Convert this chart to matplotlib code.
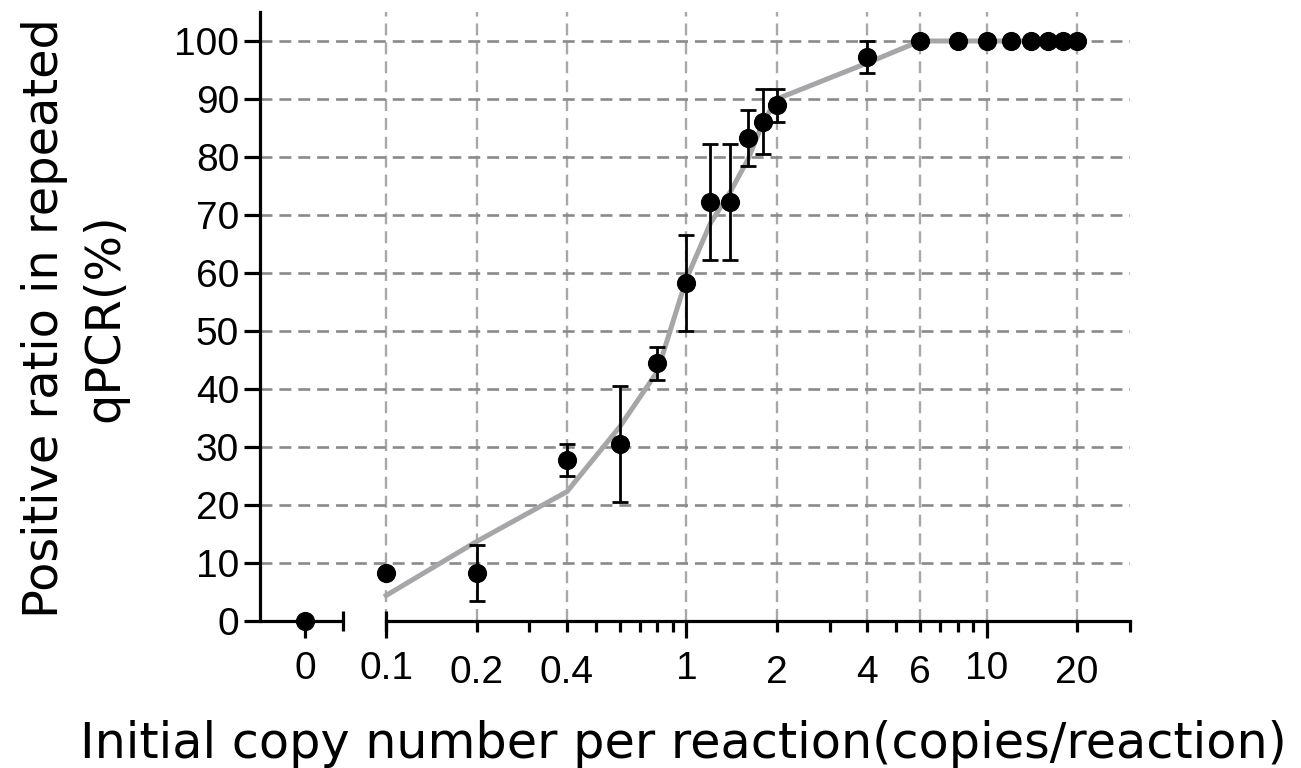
import numpy as np
import matplotlib
matplotlib.use('Agg')
import matplotlib.pyplot as plt
from matplotlib.ticker import FixedLocator, FixedFormatter

# measured positive ratio (%) per initial copy number
copies = [0, 0.1, 0.2, 0.4, 0.6, 0.8, 1, 1.2, 1.4, 1.6, 1.8, 2, 4,
          6, 8, 10, 12, 14, 16, 18, 20]
positive = [0, 8.3, 8.3, 27.8, 30.6, 44.4, 58.3, 72.2, 72.2, 83.3, 86.1,
            88.9, 97.2, 100, 100, 100, 100, 100, 100, 100, 100]
error = [0, 0, 4.8, 2.8, 10.0, 2.8, 8.3, 10.0, 10.0, 4.8, 5.6, 2.8, 2.8,
         0, 0, 0, 0, 0, 0, 0, 0]

# grey curve (fit), drawn from 0.1 upward
fit_x = [0.1, 0.2, 0.4, 0.6, 0.8, 1, 1.2, 1.4, 1.6, 1.8, 2, 4,
         6, 8, 10, 12, 14, 16, 18, 20]
fit_y = [4.4, 13.7, 22.3, 33.5, 43.0, 59.0, 68.5, 74.0, 79.5, 86.0, 90.0,
         96.2, 100, 100, 100, 100, 100, 100, 100, 100]

# axis ticks
major_x = [0, 0.1, 1, 10]
major_x_labels = ['0', '0.1', '1', '10']
minor_x = [0.2, 0.3, 0.4, 0.5, 0.6, 0.7, 0.8, 0.9,
           2, 3, 4, 5, 6, 7, 8, 9, 20, 30]
minor_x_labels = ['0.2', '', '0.4', '', '', '', '', '',
                  '2', '', '4', '', '6', '', '', '', '20', '']
grid_x = [0.1, 0.2, 0.4, 1, 2, 4, 6, 10, 20]
y_ticks = list(range(0, 101, 10))

# broken x axis: linear stub around 0, log scale from 0.1 on
X_BREAK = 0.1
K = 2.7
X_LEFT = -0.0556
STUB_END = 0.047


def fwd(x):
    x = np.asarray(x, dtype=float)
    lin = np.log10(X_BREAK) + (x - X_BREAK) * K
    lg = np.log10(np.clip(x, X_BREAK, None))
    return np.where(x >= X_BREAK, lg, lin)


def inv(p):
    p = np.asarray(p, dtype=float)
    p0 = np.log10(X_BREAK)
    return np.where(p >= p0, 10 ** np.clip(p, p0, 10),
                    X_BREAK + (p - p0) / K)


plt.rcParams['lines.scale_dashes'] = False
tick_font = 'Liberation Sans'
label_font = 'DejaVu Sans'

fig = plt.figure(figsize=(13.01, 7.68), dpi=100)
ax = fig.add_axes([260 / 1301, 1 - 621 / 768, 870 / 1301, 609 / 768])
ax.set_xscale('function', functions=(fwd, inv))
ax.set_xlim(X_LEFT, 30)
ax.set_ylim(0, 105)

# grid
for g in grid_x:
    ax.axvline(g, color='#a8a8a8', lw=1.7, dashes=(8.6, 5.0), zorder=1)
for g in y_ticks[1:]:
    ax.axhline(g, color='#8a8a8a', lw=1.9, dashes=(8.6, 5.0), zorder=1)

ax.plot(fit_x, fit_y, color='#a6a6a9', lw=3.6, zorder=2,
        solid_joinstyle='miter')

copies_arr = np.array(copies)
pos_arr = np.array(positive)
err_arr = np.array(error)
has_err = err_arr > 0
ax.errorbar(copies_arr[has_err], pos_arr[has_err], yerr=err_arr[has_err],
            fmt='none', ecolor='black', elinewidth=2.0, capsize=6,
            capthick=2.0, zorder=3)
ax.plot(copies, positive, ls='none', marker='o', ms=12.8, color='black',
        zorder=4, clip_on=False)

# spines
for s in ['top', 'right']:
    ax.spines[s].set_visible(False)
ax.spines['left'].set_linewidth(2.3)
ax.spines['bottom'].set_linewidth(2.3)
ax.spines['bottom'].set_bounds(0.1, 30)
ax.plot([X_LEFT, STUB_END], [0, 0], color='black', lw=2.3,
        solid_capstyle='butt', clip_on=False, zorder=5)
ax.plot([STUB_END, X_BREAK], [0, 0], ls='none', marker='|', ms=13.7,
        mew=2.3, color='black', clip_on=False, zorder=5)

# ticks
ax.xaxis.set_major_locator(FixedLocator(major_x))
ax.xaxis.set_major_formatter(FixedFormatter(major_x_labels))
ax.xaxis.set_minor_locator(FixedLocator(minor_x))
ax.xaxis.set_minor_formatter(FixedFormatter(minor_x_labels))
ax.tick_params(axis='x', which='major', length=12.2, width=2.3, pad=9.4,
               labelsize=28)
ax.tick_params(axis='x', which='minor', length=7.6, width=2.3, pad=17.0,
               labelsize=28)
ax.set_yticks(y_ticks)
ax.tick_params(axis='y', length=11.5, width=2.3, pad=3.5, labelsize=28)
for lab in ax.get_xticklabels(which='both') + ax.get_yticklabels():
    lab.set_fontfamily(tick_font)

fig.text(80 / 1301, 1 - 757.5 / 768,
         'Initial copy number per reaction(copies/reaction)',
         ha='left', va='baseline', fontsize=35.5, family=label_font)
fig.text(75 / 1301, 1 - 318 / 768,
         'Positive ratio in repeated\nqPCR(%)',
         ha='center', va='center', rotation=90, fontsize=34.5,
         family=label_font, linespacing=1.37)

fig.savefig('out.png', dpi=100)
